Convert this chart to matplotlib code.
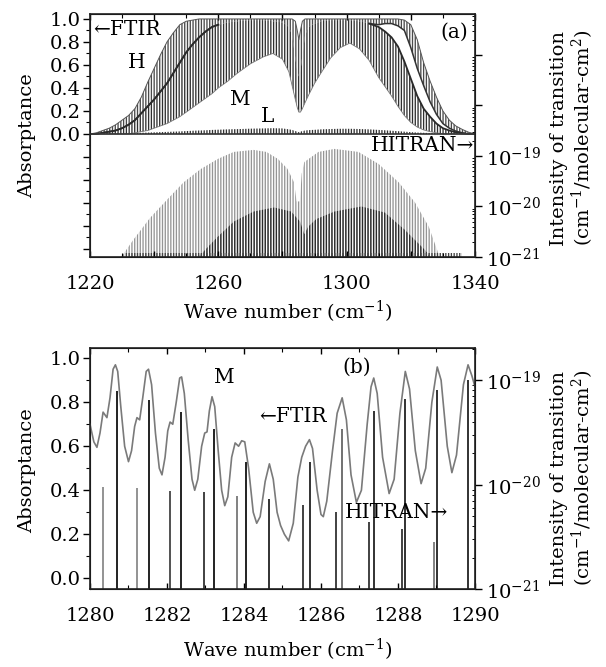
import numpy as np
import matplotlib
matplotlib.use("Agg")
import matplotlib.pyplot as plt
from matplotlib.ticker import MultipleLocator, FixedLocator, FuncFormatter, LogLocator, NullFormatter

plt.rcParams['font.family'] = ['DejaVu Serif', 'DejaVu Sans']
plt.rcParams['mathtext.fontset'] = 'dejavuserif'
plt.rcParams['hatch.linewidth'] = 0.95

# ---------------- Panel (a): FTIR envelopes (absorptance) ----------------
wn_a = [1220, 1222, 1224, 1226, 1228, 1230, 1232, 1234, 1236, 1238, 1240, 1242, 1244, 1246,
        1248, 1250, 1252, 1254, 1256, 1258, 1260, 1263, 1266, 1270, 1274, 1277, 1280, 1282,
        1283, 1284, 1284.6, 1285.1, 1285.6, 1286.2, 1287, 1288, 1290, 1292, 1295, 1298, 1301,
        1304, 1307, 1310, 1312, 1314, 1316, 1318, 1320, 1322, 1324, 1326, 1328, 1330, 1332,
        1334, 1336, 1338, 1340]
H_up = [0.00, 0.01, 0.03, 0.05, 0.08, 0.12, 0.16, 0.22, 0.32, 0.45, 0.57, 0.69, 0.80, 0.88,
        0.95, 0.98, 0.99, 1.00, 1.00, 1.00, 1.00, 1.00, 1.00, 1.00, 1.00, 1.00, 1.00, 1.00,
        1.00, 0.98, 0.90, 0.82, 0.90, 0.98, 1.00, 1.00, 1.00, 1.00, 1.00, 1.00, 1.00,
        1.00, 1.00, 1.00, 1.00, 1.00, 1.00, 0.99, 0.95, 0.82, 0.62, 0.46, 0.32, 0.20, 0.12,
        0.07, 0.04, 0.015, 0.00]
H_low = [0.00, 0.00, 0.01, 0.02, 0.03, 0.05, 0.08, 0.12, 0.18, 0.24, 0.30, 0.37, 0.44, 0.53,
         0.62, 0.71, 0.78, 0.84, 0.89, 0.93, 0.95, 0.97, 0.98, 0.99, 0.99, 0.98, 0.97, 0.93,
         0.86, 0.66, 0.55, 0.50, 0.55, 0.68, 0.85, 0.93, 0.96, 0.98, 0.99, 0.99, 0.99,
         0.98, 0.96, 0.95, 0.96, 0.96, 0.94, 0.90, 0.75, 0.57, 0.42, 0.28, 0.17, 0.09, 0.05,
         0.025, 0.01, 0.00, 0.00]
M_up = [0.00, 0.00, 0.01, 0.02, 0.03, 0.05, 0.08, 0.12, 0.18, 0.24, 0.30, 0.37, 0.44, 0.53,
        0.62, 0.71, 0.78, 0.84, 0.89, 0.93, 0.95, 0.97, 0.98, 0.99, 0.99, 0.98, 0.97, 0.93,
        0.86, 0.66, 0.55, 0.50, 0.55, 0.68, 0.85, 0.93, 0.96, 0.98, 0.99, 0.99, 0.99,
        0.98, 0.96, 0.93, 0.89, 0.84, 0.76, 0.63, 0.48, 0.33, 0.22, 0.15, 0.09, 0.05, 0.03,
        0.015, 0.005, 0.00, 0.00]
M_low = [0.00, 0.00, 0.00, 0.00, 0.00, 0.00, 0.00, 0.01, 0.02, 0.03, 0.05, 0.07, 0.09, 0.12,
         0.15, 0.19, 0.23, 0.27, 0.31, 0.35, 0.40, 0.46, 0.53, 0.61, 0.67, 0.70, 0.65, 0.54,
         0.42, 0.30, 0.23, 0.19, 0.19, 0.22, 0.27, 0.33, 0.44, 0.53, 0.66, 0.75, 0.79,
         0.74, 0.64, 0.49, 0.41, 0.33, 0.24, 0.16, 0.10, 0.06, 0.035, 0.02, 0.01, 0.00, 0.00,
         0.00, 0.00, 0.00, 0.00]
L_up = [0.005, 0.005, 0.006, 0.006, 0.007, 0.008, 0.008, 0.010, 0.010, 0.012, 0.014, 0.016,
        0.018, 0.020, 0.022, 0.025, 0.028, 0.030, 0.032, 0.035, 0.037, 0.040, 0.042, 0.046,
        0.048, 0.050, 0.048, 0.040, 0.035, 0.025, 0.020, 0.015, 0.020, 0.025, 0.030, 0.033,
        0.036, 0.040, 0.043, 0.045, 0.045, 0.043, 0.040, 0.035, 0.032, 0.028, 0.024, 0.020,
        0.016, 0.012, 0.010, 0.008, 0.006, 0.005, 0.005, 0.004, 0.004, 0.004, 0.004]

# ---------------- Panel (a): HITRAN line-intensity envelopes (log10) ----------------
wn_strong = [1229.5, 1230.3, 1233.5, 1238.8, 1244.1, 1249.2, 1254.5, 1259.8, 1264.8, 1271.0,
             1275.0, 1278.6, 1281.5, 1283.6, 1284.4, 1285.4, 1286.0, 1286.8, 1291.2, 1296.2,
             1303.7, 1310.0, 1316.2, 1321.3, 1325.6, 1328.2, 1328.8]
logI_strong = [-21.0, -20.95, -20.66, -20.22, -19.86, -19.52, -19.26, -19.06, -18.92, -18.88,
               -18.92, -19.06, -19.25, -19.52, -19.9, -19.9, -19.35, -19.12, -18.92, -18.86,
               -18.92, -19.16, -19.52, -19.92, -20.40, -20.86, -21.0]
wn_weak = [1253.5, 1254.5, 1259.8, 1264.8, 1271.0, 1277.4, 1282.7, 1285.5, 1286.8, 1288.0,
           1290.5, 1296.2, 1304.6, 1311.9, 1318.1, 1324.4, 1326.0]
logI_weak = [-21.0, -20.95, -20.6, -20.3, -20.1, -20.02, -20.1, -20.3, -20.55, -20.4,
             -20.25, -20.1, -20.0, -20.12, -20.46, -20.86, -21.0]
wn_faint = [1231.0, 1336.0]
logI_faint = [-20.93, -20.93]

# ---------------- Panel (b): FTIR curve (M) ----------------
wn_b = [1280.00, 1280.10, 1280.18, 1280.26, 1280.34, 1280.44, 1280.52, 1280.60, 1280.66, 1280.72,
        1280.80, 1280.90, 1281.00, 1281.08, 1281.16, 1281.22, 1281.29, 1281.37, 1281.46, 1281.52,
        1281.60, 1281.70, 1281.80, 1281.87, 1281.95, 1282.02, 1282.08, 1282.15, 1282.24, 1282.33,
        1282.38, 1282.45, 1282.55, 1282.65, 1282.72, 1282.80, 1282.90, 1282.98, 1283.04, 1283.10,
        1283.17, 1283.24, 1283.33, 1283.42, 1283.50, 1283.58, 1283.68, 1283.77, 1283.86, 1283.94,
        1284.02, 1284.12, 1284.24, 1284.33, 1284.42, 1284.55, 1284.66, 1284.76, 1284.86, 1284.95,
        1285.05, 1285.16, 1285.28, 1285.40, 1285.50, 1285.60, 1285.70, 1285.78, 1285.90, 1286.00,
        1286.06, 1286.15, 1286.30, 1286.42, 1286.55, 1286.66, 1286.78, 1286.92, 1287.05, 1287.20,
        1287.30, 1287.37, 1287.46, 1287.60, 1287.77, 1287.90, 1288.05, 1288.19, 1288.30, 1288.45,
        1288.60, 1288.72, 1288.88, 1289.02, 1289.12, 1289.28, 1289.40, 1289.52, 1289.70, 1289.82,
        1289.92, 1290.00]
A_b = [0.70, 0.62, 0.595, 0.66, 0.755, 0.73, 0.82, 0.95, 0.97, 0.94,
       0.78, 0.60, 0.53, 0.58, 0.69, 0.73, 0.72, 0.82, 0.94, 0.95,
       0.88, 0.66, 0.50, 0.47, 0.55, 0.67, 0.71, 0.70, 0.80, 0.91,
       0.915, 0.84, 0.63, 0.45, 0.40, 0.45, 0.60, 0.66, 0.665, 0.76,
       0.825, 0.78, 0.58, 0.40, 0.33, 0.37, 0.55, 0.615, 0.60, 0.625,
       0.62, 0.50, 0.30, 0.25, 0.28, 0.44, 0.52, 0.45, 0.30, 0.24,
       0.20, 0.17, 0.25, 0.46, 0.55, 0.60, 0.63, 0.59, 0.40, 0.29,
       0.28, 0.35, 0.58, 0.75, 0.82, 0.72, 0.47, 0.345, 0.40, 0.70,
       0.87, 0.91, 0.84, 0.55, 0.385, 0.45, 0.75, 0.94, 0.86, 0.58,
       0.43, 0.50, 0.80, 0.96, 0.90, 0.60, 0.48, 0.56, 0.88, 0.97,
       0.92, 0.87]

# ---------------- Panel (b): HITRAN lines ----------------
stick_wn = [1280.33, 1280.69, 1281.21, 1281.53, 1282.09, 1282.37, 1282.95, 1283.21, 1283.82,
            1284.06, 1284.66, 1285.54, 1285.72, 1286.39, 1286.54, 1287.24, 1287.37, 1288.10,
            1288.19, 1288.94, 1289.01, 1289.82]
stick_logI = [-20.02, -19.10, -20.03, -19.19, -20.06, -19.30, -20.07, -19.47, -20.11,
              -19.78, -20.14, -20.19, -19.78, -20.26, -19.47, -20.36, -19.29, -20.42,
              -19.18, -20.55, -19.09, -19.00]
stick_color = ['#8a8a8a', '#111111', '#8a8a8a', '#111111', '#444444', '#111111', '#333333',
               '#111111', '#777777', '#111111', '#222222', '#333333', '#222222', '#333333',
               '#666666', '#333333', '#222222', '#333333', '#222222', '#777777', '#222222',
               '#222222']

TICK_FS = 14
LABEL_FS = 14
ANN_FS = 14.5

fig = plt.figure(figsize=(6.06, 6.67), dpi=100)
fig.patch.set_facecolor('white')


def style_abs_axis(ax, ymin_label=0.0):
    ax.yaxis.set_major_locator(MultipleLocator(0.2))
    ax.yaxis.set_minor_locator(MultipleLocator(0.1))
    ax.yaxis.set_major_formatter(FuncFormatter(
        lambda v, p: ('%.1f' % abs(v) if abs(v) < 1e-9 else '%.1f' % v) if v > ymin_label - 1e-6 and v < 1.0001 else ''))
    ax.tick_params(axis='y', which='major', direction='out', length=5, width=1.0,
                   labelsize=TICK_FS, pad=2, right=False)
    ax.tick_params(axis='y', which='minor', direction='out', length=3, width=0.8, right=False)
    ax.tick_params(axis='x', which='major', direction='in', length=4, width=1.0,
                   labelsize=TICK_FS, top=True, pad=13)
    ax.tick_params(axis='x', which='minor', direction='in', length=3, width=0.8, top=True)
    for s in ax.spines.values():
        s.set_linewidth(1.2)
        s.set_color('#222222')


def style_log_axis(ax2, lo, hi):
    ax2.set_yscale('log')
    ax2.set_ylim(lo, hi)
    ax2.yaxis.set_major_locator(LogLocator(base=10, numticks=20))
    ax2.yaxis.set_minor_locator(LogLocator(base=10, subs=np.arange(2, 10), numticks=20))
    ax2.yaxis.set_minor_formatter(NullFormatter())

    def fmt(v, p):
        e = int(round(np.log10(v)))
        if -21 <= e <= -19:
            return r'$10^{%d}$' % e
        return ''
    ax2.yaxis.set_major_formatter(FuncFormatter(fmt))
    ax2.tick_params(axis='y', which='major', direction='out', length=5, width=1.0,
                    labelsize=TICK_FS, pad=3)
    ax2.tick_params(axis='y', which='minor', direction='in', length=2.5, width=0.7)


# ======================= Panel (a) =======================
axa = fig.add_axes([0.1485, 0.6147, 0.6353, 0.3643])
axa.set_xlim(1220, 1340)
axa.set_ylim(-1.07, 1.043)
axa2 = axa.twinx()
style_log_axis(axa2, 1e-21, 10 ** -16.19)
axa2.set_xlim(1220, 1340)

HATCH = '||||||'
# HITRAN sticks (dense line lists drawn as hatched envelopes)
axa2.fill_between(wn_strong, 1e-21, 10 ** np.array(logI_strong), facecolor='none',
                  edgecolor='#959595', hatch=HATCH, linewidth=0)
axa2.fill_between(wn_weak, 1e-21, 10 ** np.array(logI_weak), facecolor='none',
                  edgecolor='#2a2a2a', hatch=HATCH, linewidth=0)
axa2.fill_between(wn_faint, 1e-21, 10 ** np.array(logI_faint), facecolor='none',
                  edgecolor='#444444', hatch=HATCH, linewidth=0)

# FTIR spectra H, M, L (rotational structure drawn as hatched envelopes)
axa.fill_between(wn_a, H_low, H_up, facecolor='none', edgecolor='#4a4a4a',
                 hatch=HATCH, linewidth=0)
axa.fill_between(wn_a, M_low, M_up, facecolor='none', edgecolor='#303030',
                 hatch=HATCH, linewidth=0)
axa.fill_between(wn_a, 0, L_up, facecolor='none', edgecolor='#333333',
                 hatch=HATCH, linewidth=0)
wn_arr = np.array(wn_a)
band_mask = (wn_arr > 1262) & (wn_arr < 1306)
axa.plot(wn_a, H_up, color='#555555', lw=0.7)
axa.plot(wn_a, np.ma.masked_where(band_mask, H_low), color='#333333', lw=1.1)
axa.plot(wn_a, np.ma.masked_where(band_mask, M_up), color='#2a2a2a', lw=1.3)
axa.plot(wn_a, M_low, color='#777777', lw=0.6)
axa.plot([1220, 1340], [0, 0], color='#333333', lw=1.2)

style_abs_axis(axa)
axa.xaxis.set_major_locator(FixedLocator([1220, 1240, 1260, 1280, 1300, 1320, 1340]))
axa.xaxis.set_major_formatter(FuncFormatter(lambda v, p: '%d' % v if int(round(v)) % 40 == 20 else ''))
axa.xaxis.set_minor_locator(MultipleLocator(10))
axa.set_zorder(1)
axa.patch.set_visible(False)

axa.text(1221.0, 0.905, '\u2190FTIR', fontsize=ANN_FS, ha='left', va='center')
axa.text(1234.7, 0.62, 'H', fontsize=14.5, ha='center', va='center')
axa.text(1267.0, 0.30, 'M', fontsize=14.5, ha='center', va='center')
axa.text(1275.5, 0.15, 'L', fontsize=14.5, ha='center', va='center')
axa.text(1333.5, 0.88, '(a)', fontsize=14.5, ha='center', va='center')
axa.text(1339.7, -0.10, 'HITRAN\u2192', fontsize=ANN_FS, ha='right', va='center')

fig.text(0.045, 0.797, 'Absorptance', rotation=90, fontsize=LABEL_FS, ha='center', va='center')
fig.text(0.474, 0.532, 'Wave number (cm$^{-1}$)', fontsize=LABEL_FS, ha='center', va='center')
fig.text(0.922, 0.793, 'Intensity of transition', rotation=90, fontsize=LABEL_FS,
         ha='center', va='center')
fig.text(0.962, 0.793, '(cm$^{-1}$/molecular-cm$^{2}$)', rotation=90, fontsize=LABEL_FS,
         ha='center', va='center')

# ======================= Panel (b) =======================
axb = fig.add_axes([0.1485, 0.1165, 0.6353, 0.3613])
axb.set_xlim(1280, 1290)
axb.set_ylim(-0.05, 1.045)
axb2 = axb.twinx()
style_log_axis(axb2, 1e-21, 10 ** -18.694)
axb2.set_xlim(1280, 1290)

axb2.vlines(stick_wn, 1e-21, 10 ** np.array(stick_logI), colors=stick_color, lw=1.3)
axb.plot(wn_b, A_b, color='#7a7a7a', lw=1.2)

style_abs_axis(axb)
axb.xaxis.set_major_locator(MultipleLocator(2))
axb.xaxis.set_major_formatter(FuncFormatter(lambda v, p: '%d' % v))
axb.xaxis.set_minor_locator(MultipleLocator(1))
axb.set_zorder(1)
axb.patch.set_visible(False)

axb.text(1283.5, 0.914, 'M', fontsize=14.5, ha='center', va='center')
axb.text(1286.92, 0.96, '(b)', fontsize=14.5, ha='center', va='center')
axb.text(1284.4, 0.736, '\u2190FTIR', fontsize=ANN_FS, ha='left', va='center')
axb.text(1289.3, 0.30, 'HITRAN\u2192', fontsize=ANN_FS, ha='right', va='center')

fig.text(0.045, 0.294, 'Absorptance', rotation=90, fontsize=LABEL_FS, ha='center', va='center')
fig.text(0.474, 0.025, 'Wave number (cm$^{-1}$)', fontsize=LABEL_FS, ha='center', va='center')
fig.text(0.922, 0.283, 'Intensity of transition', rotation=90, fontsize=LABEL_FS,
         ha='center', va='center')
fig.text(0.962, 0.283, '(cm$^{-1}$/molecular-cm$^{2}$)', rotation=90, fontsize=LABEL_FS,
         ha='center', va='center')

fig.savefig('out.png', dpi=100)
